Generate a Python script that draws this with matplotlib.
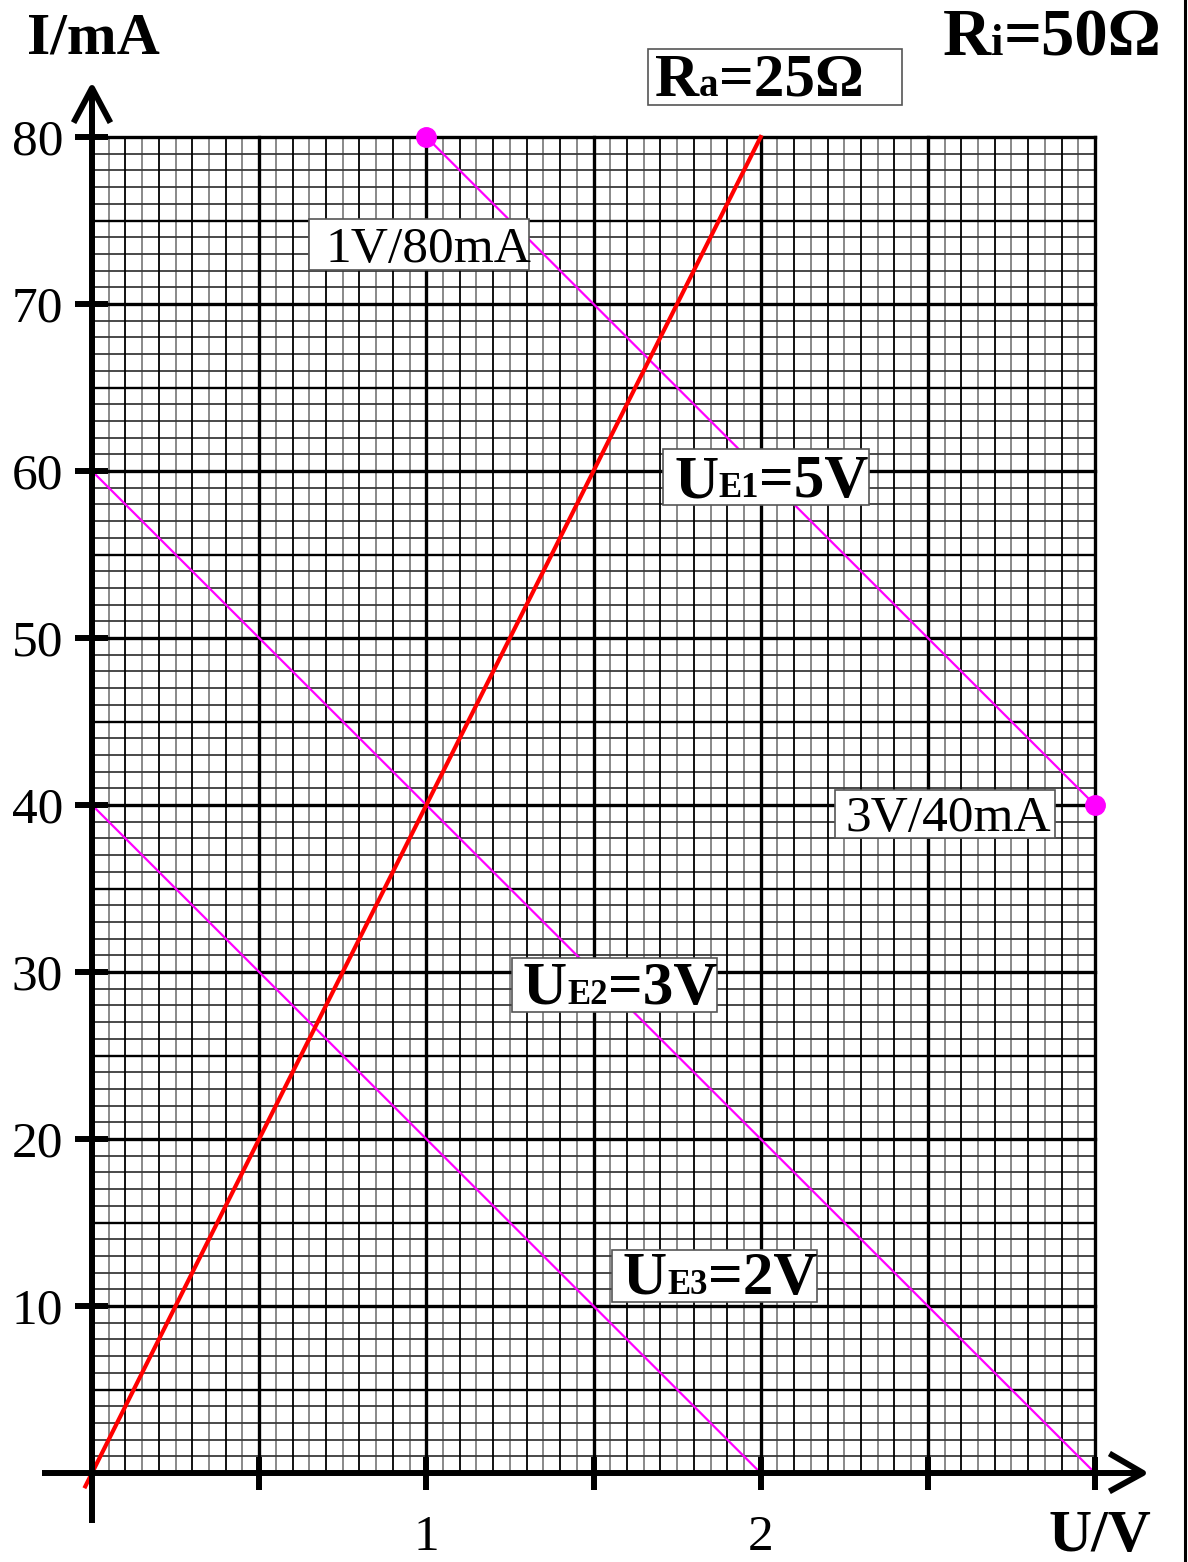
import numpy as np
import matplotlib
matplotlib.use('Agg')
import matplotlib.pyplot as plt
from matplotlib.patches import Rectangle
from matplotlib.transforms import IdentityTransform

# Kennlinien (U in V, I in mA)
u_ra = [-0.02, 2.0]
i_ra = [-0.8, 80]
u_e1 = [1, 3]
i_e1 = [80, 40]
u_e2 = [0, 3]
i_e2 = [60, 0]
u_e3 = [0, 2]
i_e3 = [40, 0]
dot_u = [1, 3]
dot_i = [80, 40]

y_ticks = [10, 20, 30, 40, 50, 60, 70, 80]
x_ticks = [1, 2]

W, H = 1188, 1562
PX0, PY0 = 92, 1473
SX = (1095 - 92) / 3.0
SY = (1473 - 137) / 80.0

def d(px, py):
    return ((px - PX0) / SX, (PY0 - py) / SY)

fig = plt.figure(figsize=(W / 100, H / 100), dpi=100)
ax = fig.add_axes([0, 0, 1, 1])
ax.set_xlim(d(0, 0)[0], d(W, 0)[0])
ax.set_ylim(d(0, H)[1], d(0, 0)[1])
ax.axis('off')

serif = 'Liberation Serif'

# Millimeterpapier
for u in np.round(np.arange(0, 3.0001, 0.05), 2):
    if abs(u / 0.5 - round(u / 0.5)) < 1e-6:
        ax.plot([u, u], [0, 80], color='black', lw=2.4, zorder=2)
    elif abs(u / 0.1 - round(u / 0.1)) < 1e-6:
        ax.plot([u, u], [0, 80], color='black', lw=1.3, zorder=1.5)
    else:
        ax.plot([u, u], [0, 80], color='#808080', lw=1.3, zorder=1)
for i in range(0, 81):
    if i % 10 == 0:
        ax.plot([0, 3], [i, i], color='black', lw=2.4, zorder=2)
    elif i % 5 == 0:
        ax.plot([0, 3], [i, i], color='black', lw=1.7, zorder=1.5)
    else:
        ax.plot([0, 3], [i, i], color='#3a3a3a', lw=1.3, zorder=1.2)

# Achsen mit Pfeilen
alw = 4.3
ax.plot([d(42, 0)[0], d(1143, 0)[0]], [0, 0], color='black', lw=alw, zorder=4, solid_capstyle='butt')
ax.plot([0, 0], [d(0, 1523)[1], d(0, 88)[1]], color='black', lw=alw, zorder=4, solid_capstyle='butt')
ax.plot([d(75, 0)[0], 0, d(109, 0)[0]], [d(0, 120)[1], d(0, 88)[1], d(0, 120)[1]],
        color='black', lw=alw, zorder=4)
ax.plot([d(1112, 0)[0], d(1143, 0)[0], d(1112, 0)[0]], [d(0, 1455)[1], 0, d(0, 1490)[1]],
        color='black', lw=alw, zorder=4)

for y in y_ticks:
    ax.plot([d(75, 0)[0], d(108, 0)[0]], [y, y], color='black', lw=alw, zorder=4, solid_capstyle='butt')
    ax.text(d(63, 0)[0], y, str(y), ha='right', va='center_baseline', fontsize=37, family=serif)
for u in [0.5, 1, 1.5, 2, 2.5, 3]:
    ax.plot([u, u], [d(0, 1490)[1], d(0, 1457)[1]], color='black', lw=alw, zorder=4, solid_capstyle='butt')
for u in x_ticks:
    ax.text(u, d(0, 1550)[1], str(u), ha='center', va='baseline', fontsize=37, family=serif)

# Kennlinien
ax.plot(u_e1, i_e1, color='#ff00ff', lw=1.6, zorder=3)
ax.plot(u_e2, i_e2, color='#ff00ff', lw=1.6, zorder=3)
ax.plot(u_e3, i_e3, color='#ff00ff', lw=1.6, zorder=3)
ax.plot(u_ra, i_ra, color='#ff0000', lw=3, zorder=3.5)
ax.plot(dot_u, dot_i, 'o', color='#ff00ff', ms=14, zorder=4.5, clip_on=False)

# rechte Randlinie
ax.plot([d(1185, 0)[0]] * 2, [d(0, 0)[1], d(0, H)[1]], color='black', lw=2.2, zorder=4)

fig.canvas.draw()
rend = fig.canvas.get_renderer()


def box(l, t, r, b):
    x0, y0 = ax.transData.transform(d(l, b))
    x1, y1 = ax.transData.transform(d(r, t))
    ax.add_patch(Rectangle((x0, y0), x1 - x0, y1 - y0, transform=IdentityTransform(),
                           facecolor='white', edgecolor='#555555', lw=1.2, zorder=5))


def rich(px, py, parts):
    X, Y = ax.transData.transform(d(px, py))
    for s, fs, fw in parts:
        t = ax.text(X, Y, s, transform=IdentityTransform(), fontsize=fs, fontweight=fw,
                    family=serif, ha='left', va='baseline', zorder=6)
        X = t.get_window_extent(rend).x1


box(663, 449, 869, 505)
rich(674, 497, [('U', 44, 'bold'), ('E1', 25, 'bold'), ('=5V', 44, 'bold')])
box(512, 958, 717, 1012)
rich(523, 1004, [('U', 44, 'bold'), ('E2', 25, 'bold'), ('=3V', 44, 'bold')])
box(612, 1250, 817, 1302)
rich(623, 1294, [('U', 44, 'bold'), ('E3', 25, 'bold'), ('=2V', 44, 'bold')])
box(648, 49, 902, 105)
rich(655, 96, [('R', 44, 'bold'), ('a', 28, 'bold'), ('=25Ω', 44, 'bold')])
rich(943, 55, [('R', 48, 'bold'), ('i', 32, 'bold'), ('=50Ω', 48, 'bold')])

box(309, 219, 529, 270)
rich(326, 262, [('1V/80mA', 37, 'normal')])
box(835, 790, 1055, 838)
rich(845, 831, [('3V/40mA', 37, 'normal')])

rich(27, 53, [('I/mA', 43, 'bold')])
rich(1048, 1551, [('U/V', 43, 'bold')])

fig.savefig('out.png', dpi=100, facecolor='white')
